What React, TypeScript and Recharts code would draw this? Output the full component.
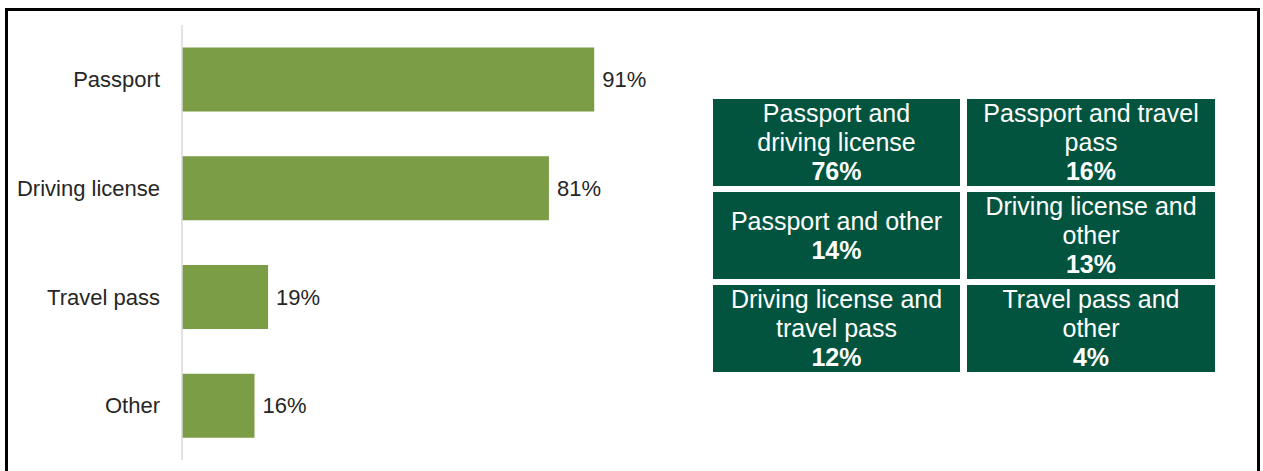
import { Bar, BarChart, LabelList, XAxis, YAxis } from 'recharts';

const categories = ['Passport', 'Driving license', 'Travel pass', 'Other'];
const shares = [91, 81, 19, 16];

const comboLabels = [
  'Passport and driving license',
  'Passport and travel pass',
  'Passport and other',
  'Driving license and other',
  'Driving license and travel pass',
  'Travel pass and other',
];
const comboShares = [76, 16, 14, 13, 12, 4];

const FONT = '"Liberation Sans", Arial, sans-serif';

export default function App() {
  const data = categories.map((name, i) => ({ name, value: shares[i] }));

  return (
    <div style={{ position: 'relative', width: 1263, height: 471, overflow: 'hidden', fontFamily: FONT }}>
      <style>{'html,body{margin:0;overflow:hidden}'}</style>
      <div
        style={{
          position: 'absolute',
          left: 5,
          top: 8,
          width: 1249,
          height: 500,
          border: '3px solid #000',
          boxSizing: 'content-box',
        }}
      />
      <div style={{ position: 'absolute', left: 0, top: 0 }}>
        <BarChart
          width={700}
          height={471}
          data={data}
          layout="vertical"
          margin={{ top: 25, right: 65, bottom: 11, left: 0 }}
          barCategoryGap="20.6%"
        >
          <XAxis type="number" domain={[0, 100]} hide />
          <YAxis
            type="category"
            dataKey="name"
            width={182}
            axisLine={{ stroke: '#d9d9d9', strokeWidth: 1.5 }}
            tickLine={false}
            tickMargin={16}
            tick={{ fontSize: 22, fill: '#262626', fontFamily: FONT }}
          />
          <Bar dataKey="value" fill="#7a9d45" isAnimationActive={false}>
            <LabelList
              dataKey="value"
              position="right"
              offset={8}
              formatter={(v: number) => `${v}%`}
              style={{ fontSize: 22, fill: '#262626', fontFamily: FONT }}
            />
          </Bar>
        </BarChart>
      </div>
      <div
        style={{
          position: 'absolute',
          left: 713,
          top: 99,
          width: 502,
          display: 'grid',
          gridTemplateColumns: '247px 248px',
          gridAutoRows: '87px',
          columnGap: 7,
          rowGap: 6,
        }}
      >
        {comboLabels.map((label, i) => (
          <div
            key={label}
            style={{
              background: '#03543f',
              color: '#fff',
              display: 'flex',
              flexDirection: 'column',
              justifyContent: 'center',
              alignItems: 'center',
              textAlign: 'center',
              fontSize: 25,
              lineHeight: '29px',
              padding: '0 14px',
              overflow: 'visible',
            }}
          >
            <div>{label}</div>
            <div style={{ fontWeight: 700 }}>{comboShares[i]}%</div>
          </div>
        ))}
      </div>
    </div>
  );
}
